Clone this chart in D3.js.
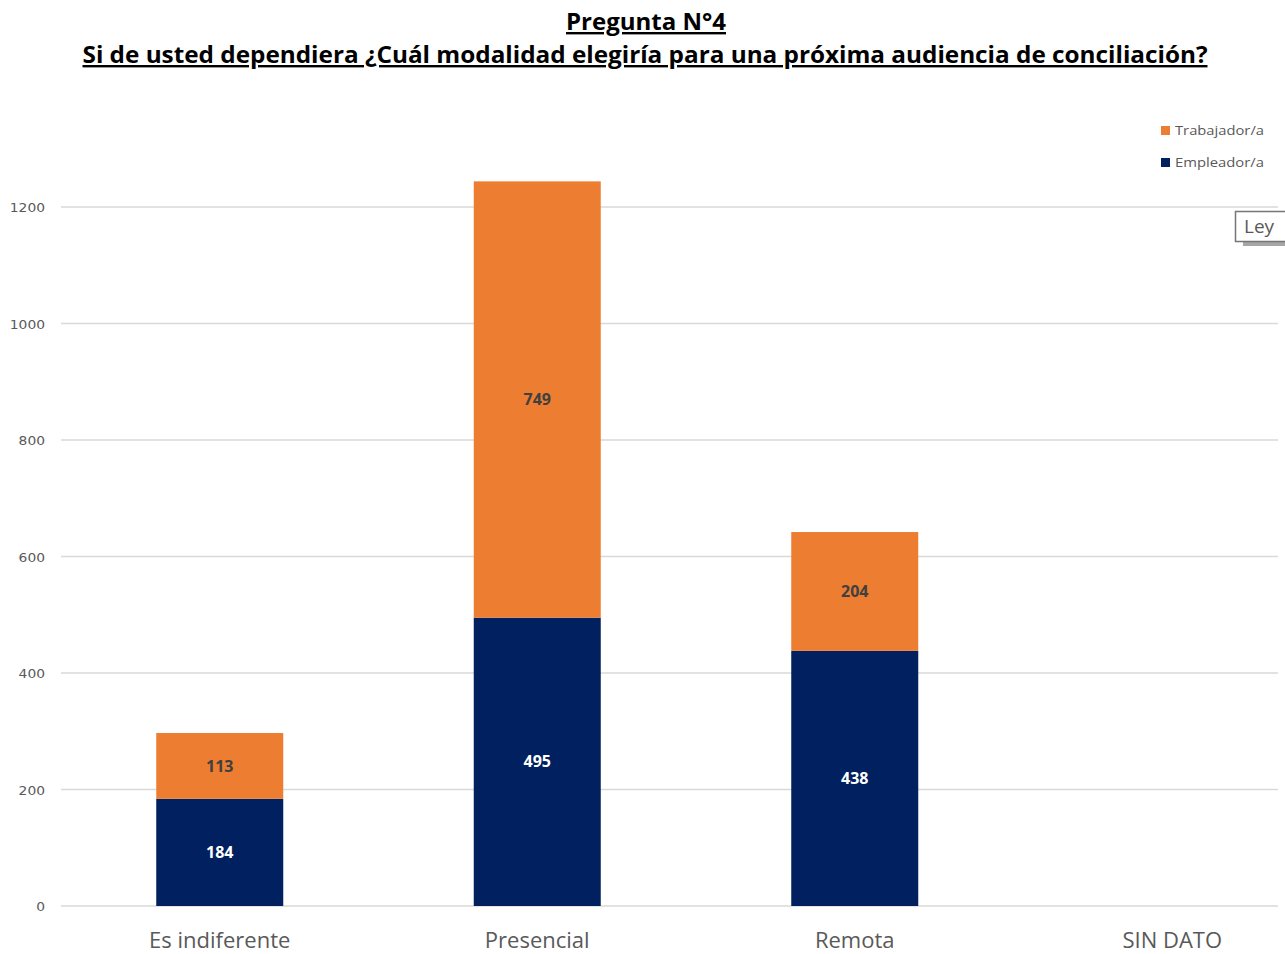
<!DOCTYPE html>
<html>
<head>
<meta charset="utf-8">
<script src="https://cdn.jsdelivr.net/npm/d3@7"></script>
<style>
  html, body { margin: 0; padding: 0; background: #fff; overflow: hidden; }
</style>
</head>
<body>
<div id="chart"></div>
<script>
// data
var categories = ["Es indiferente", "Presencial", "Remota", "SIN DATO"];
var empleador = [184, 495, 438, 0];
var trabajador = [113, 749, 204, 0];
var yTicks = [0, 200, 400, 600, 800, 1000, 1200];
var seriesNames = ["Trabajador/a", "Empleador/a"];
var seriesColors = ["#ED7D31", "#002060"];
var labelColors = ["#404040", "#ffffff"];

var width = 1285, height = 954;

var svg = d3.select("#chart")
  .append("svg")
    .attr("width", width)
    .attr("height", height)
    .style("font-family", "'Open Sans', 'Liberation Sans', sans-serif");

// titles
svg.append("text")
  .attr("x", 646).attr("y", 30)
  .attr("text-anchor", "middle")
  .attr("textLength", 160).attr("lengthAdjust", "spacingAndGlyphs")
  .style("font-size", "24px").style("font-weight", "bold")
  .style("text-decoration", "underline")
  .text("Pregunta N°4");
svg.append("text")
  .attr("x", 645).attr("y", 63)
  .attr("text-anchor", "middle")
  .attr("textLength", 1125).attr("lengthAdjust", "spacingAndGlyphs")
  .style("font-size", "24px").style("font-weight", "bold")
  .style("text-decoration", "underline")
  .text("Si de usted dependiera ¿Cuál modalidad elegiría para una próxima audiencia de conciliación?");

// scales
var x = d3.scaleBand()
  .domain(categories)
  .range([61, 1331])
  .paddingInner(0.6)
  .paddingOuter(0.3);

var y = d3.scaleLinear()
  .domain([0, 1200])
  .range([906, 207]);

// gridlines
svg.append("g")
  .selectAll("line")
  .data(yTicks)
  .enter()
  .append("line")
    .attr("x1", 61).attr("x2", 1278)
    .attr("y1", function (d) { return y(d); })
    .attr("y2", function (d) { return y(d); })
    .attr("stroke", "#d9d9d9")
    .attr("stroke-width", 1.5);

// y axis labels
var yAxis = svg.append("g")
  .attr("transform", "translate(45,0)")
  .call(d3.axisLeft(y).tickValues(yTicks).tickFormat(d3.format("d")).tickSize(0).tickPadding(0));
yAxis.select(".domain").remove();
yAxis.selectAll("text")
  .attr("dy", "0.35em")
  .style("font-size", "13px")
  .style("fill", "#595959")
  .style("font-family", "'DejaVu Sans', sans-serif")
  .attr("textLength", function () { return this.textContent.length * 8.8; })
  .attr("lengthAdjust", "spacingAndGlyphs");

// stacked data
var rows = categories.map(function (c, i) {
  return { cat: c, "Empleador/a": empleador[i], "Trabajador/a": trabajador[i] };
});
var stack = d3.stack().keys(["Empleador/a", "Trabajador/a"]);
var layers = stack(rows);

var layer = svg.append("g")
  .selectAll("g")
  .data(layers)
  .enter()
  .append("g")
    .attr("fill", function (d) { return d.key == "Empleador/a" ? seriesColors[1] : seriesColors[0]; });

layer.selectAll("rect")
  .data(function (d) { return d.filter(function (s) { return s[1] > s[0]; }); })
  .enter()
  .append("rect")
    .attr("x", function (d) { return x(d.data.cat); })
    .attr("width", x.bandwidth())
    .attr("y", function (d) { return y(d[1]); })
    .attr("height", function (d) { return y(d[0]) - y(d[1]); });

// data labels
layers.forEach(function (l) {
  var col = l.key == "Empleador/a" ? labelColors[1] : labelColors[0];
  svg.append("g")
    .selectAll("text")
    .data(l.filter(function (s) { return s[1] > s[0]; }))
    .enter()
    .append("text")
      .attr("x", function (d) { return x(d.data.cat) + x.bandwidth() / 2; })
      .attr("y", function (d) { return (y(d[0]) + y(d[1])) / 2; })
      .attr("dy", "0.35em")
      .attr("text-anchor", "middle")
      .style("font-size", "16px")
      .style("font-weight", "bold")
      .style("fill", col)
      .text(function (d) { return d[1] - d[0]; });
});

// category labels
svg.append("g")
  .selectAll("text")
  .data(categories)
  .enter()
  .append("text")
    .attr("x", function (d) { return x(d) + x.bandwidth() / 2; })
    .attr("y", 948)
    .attr("text-anchor", "middle")
    .style("font-size", "22px")
    .style("fill", "#595959")
    .text(function (d) { return d; });

// legend
var legend = svg.append("g")
  .selectAll("g")
  .data(seriesNames)
  .enter()
  .append("g")
    .attr("transform", function (d, i) { return "translate(1161," + (126 + i * 32) + ")"; });
legend.append("rect")
  .attr("width", 9).attr("height", 9)
  .attr("fill", function (d, i) { return seriesColors[i]; });
legend.append("text")
  .attr("x", 14).attr("y", 9)
  .attr("textLength", 89)
  .attr("lengthAdjust", "spacingAndGlyphs")
  .style("font-size", "13px")
  .style("fill", "#595959")
  .text(function (d) { return d; });

// tooltip box left over from the spreadsheet, cut by the right edge
svg.append("rect")
  .attr("x", 1243).attr("y", 241).attr("width", 60).attr("height", 5)
  .attr("fill", "#a6a6a6");
svg.append("rect")
  .attr("x", 1235.5).attr("y", 211.5).attr("width", 70).attr("height", 30)
  .attr("fill", "#fff").attr("stroke", "#767676").attr("stroke-width", 1.5);
svg.append("text")
  .attr("x", 1244).attr("y", 233)
  .style("font-size", "19px")
  .style("fill", "#595959")
  .text("Ley");
</script>
</body>
</html>
